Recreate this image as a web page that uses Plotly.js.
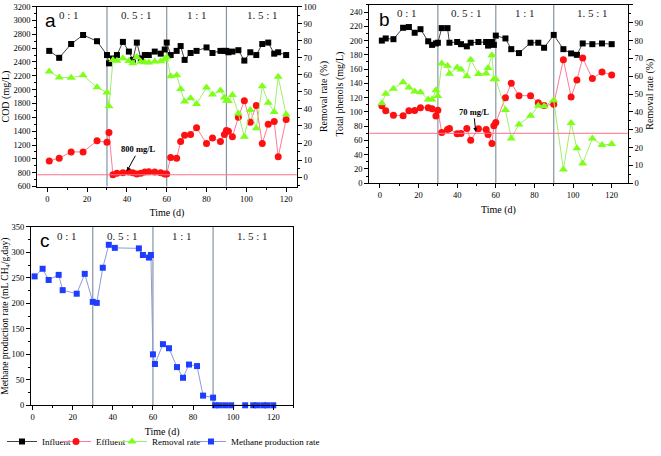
<!DOCTYPE html>
<html>
<head>
<meta charset="utf-8">
<script src="https://cdn.plot.ly/plotly-3.0.1.min.js"></script>
<style>html,body{margin:0;padding:0;background:#fff;}#chart{width:661px;height:456px;}</style>
</head>
<body>
<div id="chart"></div>
<script>
// ---------- data ----------
const daysA = [1,6,12,18,25,30,31,33,35,38,41,43,45,47,49,51,54,57,59,60,62,65,67,69,72,75,80,83,87,89,90,91,93,96,99,102,105,108,111,114,116,120];
const codInfluent = [2560,2460,2660,2790,2700,2500,2380,2450,2500,2690,2550,2430,2680,2450,2500,2500,2550,2520,2580,2680,2500,2560,2630,2430,2530,2560,2610,2530,2560,2560,2560,2540,2550,2570,2420,2540,2500,2660,2680,2520,2540,2500];
const codEffluent = [970,1010,1100,1100,1260,1240,1380,770,790,800,810,800,780,790,810,815,810,800,780,780,1020,1010,1250,1340,1350,1450,1220,1300,1250,1350,1410,1400,1320,1600,1840,1530,1770,1220,1500,1540,1030,1570];
const codRemoval = [62,58.5,58.3,59.7,52.7,49.6,41.5,68.7,68.3,69.7,68.1,66.8,70.5,67.6,67.4,67.2,67.8,68,69.1,70.3,59.1,59.8,51.7,44.4,46.3,42.9,52.5,48.5,50.8,46.7,44.8,44.6,48.1,37.3,23.7,39.4,28.6,53.3,43.6,38.2,58.9,36.7];
const codLimit = 770;

const daysB = [1,3,7,12,15,18,21,25,27,29,30,32,35,36,40,42,45,47,51,55,56,58,59,60,65,68,72,78,82,85,90,95,99,102,105,110,115,120];
const phenolInfluent = [200,203,202,218,219,211,216,199,194,196,197,217.5,217.5,197,198,195,192,197,198,198,193,198,194,207,203,188,182.5,197,197,190,208,188,182,180,196,195,196,195];
const phenolEffluent = [108.5,101.6,95.2,94.7,101.6,102,106,106,104.4,94.3,102.5,71.3,75.4,76.8,69.4,69.9,76.8,60.2,76.3,75.4,68.5,55.6,80.5,85,120,140.2,122.8,122.8,112.7,109,110.8,173.3,121,144.8,175.6,146.7,155.9,151.7];
const phenolRemoval = [44.8,50.2,53,56.6,53.7,51.5,51.1,47,47,52.2,48.9,67.2,65.9,61.4,64.9,63.8,60,69.2,61.3,61.6,64.6,71.8,58.3,58.3,41.1,25.1,33,37.8,43.4,43.2,46.5,7.7,33.8,19.6,11.1,25.1,21.4,22];
const phenolLimit = 70;

const daysC = [1,5,8,13,15,22,26,30,32,35,38,41,53,55,58,59,60,61,65,68,72,75,78,82,85,90,91,93,96,99,106,110,112,115,117,120];
const methaneRate = [253,268,246,256,226,219,258,203,201,270,315,309,308,295,290,295,100,81,120,112,75,54,80,77,19,15,0,0,0,0,0,0,0,0,0,0];

const phaseBounds = [30,60,90];
const phaseLabels = ["0 : 1","0. 5 : 1","1 : 1","1. 5 : 1"];
const seriesNames = ["Influent","Effluent","Removal rate","Methane production rate"];

// ---------- layout helpers ----------
const W = 661, H = 456;
const fx = p => p / W;
const fy = p => 1 - p / H;
const SERIF = "Liberation Serif, Times New Roman, serif";
const SANS = "Liberation Sans, Arial, sans-serif";
const tickFont = {family: SERIF, size: 8.5, color: "#000"};
const titleFont = {family: SERIF, size: 10, color: "#000"};

const styles = {
  inf: {marker: {symbol: "square", size: 6, color: "#000", line: {width: 0}}, line: {color: "#444", width: 1}},
  eff: {marker: {symbol: "circle", size: 7, color: "#ff1010", line: {width: 0}}, line: {color: "#ff7a96", width: 1}},
  rem: {marker: {symbol: "triangle-up", size: 8, color: "#7dff1a", line: {width: 0}}, line: {color: "#9fef6a", width: 1}},
  met: {marker: {symbol: "square", size: 6, color: "#1f3dff", line: {width: 0}}, line: {color: "#8e9bd6", width: 1}}
};
function tr(x, y, name, st, xa, ya, show, lg) {
  return {x: x, y: y, name: name, type: "scatter", mode: "lines+markers",
    marker: st.marker, line: st.line, xaxis: xa, yaxis: ya, showlegend: show, legend: lg, cliponaxis: false};
}

const traces = [
  tr(daysA, codInfluent, seriesNames[0], styles.inf, "x", "y", true, "legend"),
  tr(daysA, codEffluent, seriesNames[1], styles.eff, "x", "y", true, "legend2"),
  tr(daysA, codRemoval, seriesNames[2], styles.rem, "x", "y2", true, "legend3"),
  tr(daysB, phenolInfluent, seriesNames[0], styles.inf, "x2", "y3", false, "legend"),
  tr(daysB, phenolEffluent, seriesNames[1], styles.eff, "x2", "y3", false, "legend2"),
  tr(daysB, phenolRemoval, seriesNames[2], styles.rem, "x2", "y4", false, "legend3"),
  tr(daysC, methaneRate, seriesNames[3], styles.met, "x3", "y5", true, "legend4")
];

function axisBase(extra) {
  return Object.assign({
    showgrid: false, zeroline: false, showline: true, linecolor: "#000", linewidth: 1,
    ticks: "outside", ticklen: 4, tickwidth: 1, tickcolor: "#000", tickfont: tickFont
  }, extra);
}
function minor(d) { return {dtick: d, ticks: "outside", ticklen: 2, tickcolor: "#000"}; }
function legendAt(px) {
  return {orientation: "h", x: fx(px), y: fy(447.5), xanchor: "left", yanchor: "middle",
    font: {family: SERIF, size: 9, color: "#000"}, itemwidth: 30, bgcolor: "rgba(0,0,0,0)", borderwidth: 0};
}

const layout = {
  width: W, height: H,
  margin: {l: 0, r: 0, t: 0, b: 0},
  paper_bgcolor: "#fff", plot_bgcolor: "#fff",
  font: {family: SERIF, size: 9, color: "#000"},
  showlegend: true,
  legend: legendAt(2),
  legend2: legendAt(56),
  legend3: legendAt(112),
  legend4: legendAt(191),
  // panel a
  xaxis: axisBase({domain: [fx(37.3), fx(296.7)], range: [-5, 125.3], anchor: "y", dtick: 20, tick0: 0, mirror: true,
    minor: minor(10), title: {text: "Time (d)", font: titleFont, standoff: 6}}),
  yaxis: axisBase({domain: [fy(189), fy(6.7)], range: [600, 3200], anchor: "x", dtick: 200, tick0: 0,
    minor: minor(100), title: {text: "COD (mg/L)", font: titleFont, standoff: 6}}),
  yaxis2: axisBase({overlaying: "y", side: "right", anchor: "x", range: [-5.5, 100], dtick: 10, tick0: 0,
    minor: minor(5), title: {text: "Removal rate (%)", font: titleFont, standoff: 4}}),
  // panel b
  xaxis2: axisBase({domain: [fx(369.3), fx(627.7)], range: [-5.5, 128.3], anchor: "y3", dtick: 20, tick0: 0, mirror: true,
    minor: minor(10), title: {text: "Time (d)", font: titleFont, standoff: 6}}),
  yaxis3: axisBase({domain: [fy(185.7), fy(5)], range: [0, 250], anchor: "x2", dtick: 20, tick0: 0,
    minor: minor(10), title: {text: "Total phenols (mg/L)", font: titleFont, standoff: 4}}),
  yaxis4: axisBase({overlaying: "y3", side: "right", anchor: "x2", range: [0, 100], dtick: 10, tick0: 0,
    minor: minor(5), title: {text: "Removal rate (%)", font: titleFont, standoff: 4}}),
  // panel c
  xaxis3: axisBase({domain: [fx(31), fx(293.3)], range: [-0.8, 130], anchor: "y5", dtick: 20, tick0: 0, mirror: true,
    minor: minor(10), title: {text: "Time (d)", font: titleFont, standoff: 6}}),
  yaxis5: axisBase({domain: [fy(410.7), fy(230)], range: [0, 350], anchor: "x3", dtick: 50, tick0: 0, mirror: true,
    minor: minor(25),
    title: {text: "Methane production rate (mL CH<sub>4</sub>/g.day)", font: {family: SERIF, size: 9.5, color: "#000"}, standoff: 4}}),
  shapes: [],
  annotations: []
};

const panels = [
  {xa: "x", ya: "y", labX: [11, 45, 75, 108], labY: 0.955},
  {xa: "x2", ya: "y3", labX: [14, 45, 75, 110], labY: 0.955},
  {xa: "x3", ya: "y5", labX: [17, 45, 74.5, 109.5], labY: 0.95}
];
panels.forEach(p => {
  phaseBounds.forEach(d => {
    layout.shapes.push({type: "line", xref: p.xa, yref: p.ya + " domain", x0: d, x1: d, y0: 0, y1: 1,
      line: {color: "#8595a5", width: 1.2}, layer: "below"});
  });
  phaseLabels.forEach((t, i) => {
    layout.annotations.push({text: t, xref: p.xa, yref: p.ya + " domain", x: p.labX[i], y: p.labY,
      showarrow: false, xanchor: "center", yanchor: "middle", font: {family: SERIF, size: 11, color: "#222"}});
  });
});
layout.shapes.push({type: "line", xref: "x domain", yref: "y", x0: 0, x1: 1, y0: codLimit, y1: codLimit,
  line: {color: "#ff6f8a", width: 1}});
layout.shapes.push({type: "line", xref: "x2 domain", yref: "y3", x0: 0, x1: 1, y0: phenolLimit, y1: phenolLimit,
  line: {color: "#ff6f8a", width: 1}});

const letter = (t, x, y) => ({text: t, xref: "paper", yref: "paper", x: fx(x), y: fy(y), xanchor: "center", yanchor: "middle",
  showarrow: false, font: {family: SANS, size: 19, color: "#000"}});
layout.annotations.push(
  letter("a", 50, 21),
  letter("b", 384, 20),
  letter("c", 45, 244),
  {text: "<b>800 mg/L</b>", xref: "x", yref: "y", x: 40, y: 820, ax: 12, ay: -22, axref: "pixel", ayref: "pixel",
    showarrow: true, arrowhead: 2, arrowsize: 0.8, arrowwidth: 1, arrowcolor: "#000", font: {family: SERIF, size: 8.5, color: "#000"}},
  {text: "<b>70 mg/L</b>", xref: "x2", yref: "y3", x: 49.6, y: 72, ax: -2, ay: -20, axref: "pixel", ayref: "pixel",
    showarrow: true, arrowhead: 2, arrowsize: 0.8, arrowwidth: 1, arrowcolor: "#000", font: {family: SERIF, size: 8.5, color: "#000"}}
);

Plotly.newPlot("chart", traces, layout, {displayModeBar: false, staticPlot: true});
</script>
</body>
</html>
